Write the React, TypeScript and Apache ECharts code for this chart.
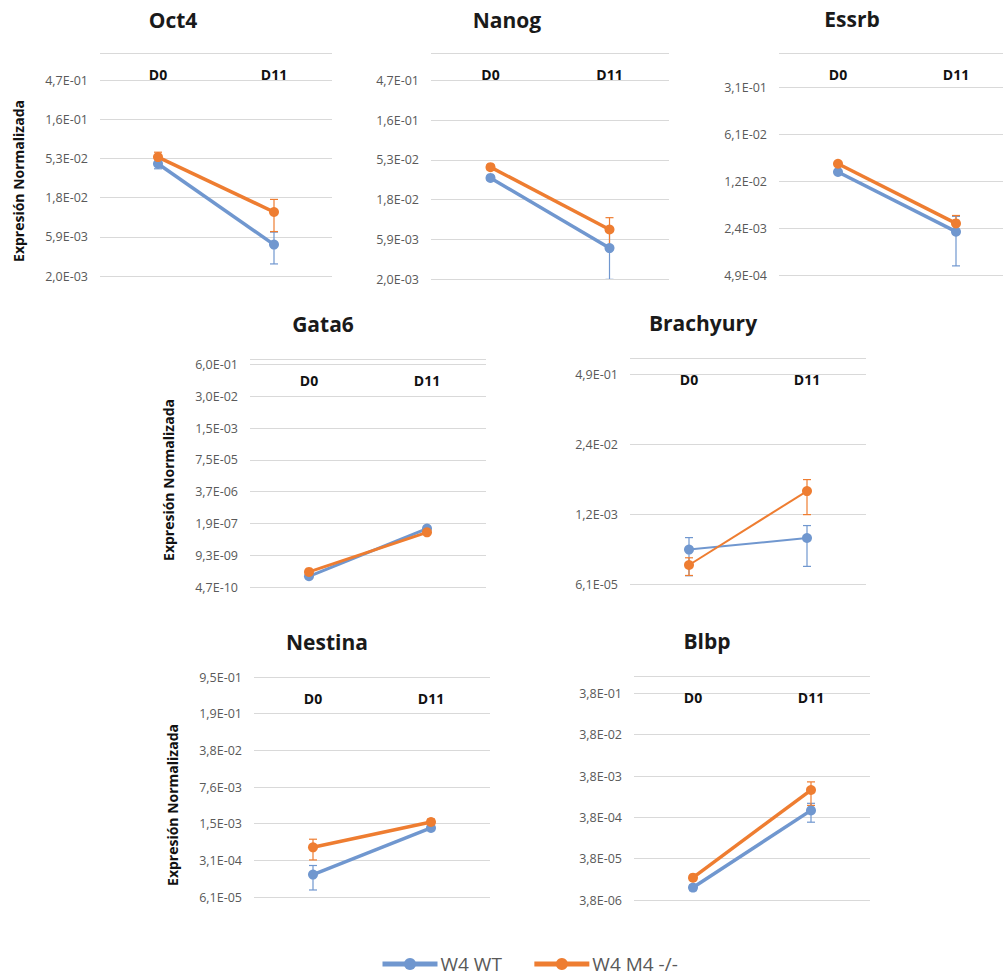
import React, { useEffect, useRef } from 'react';
import * as echarts from 'echarts';

const categories = ['D0', 'D11'];
const seriesNames = ['W4 WT', 'W4 M4 -/-'];
const panelTitles = ['Oct4', 'Nanog', 'Essrb', 'Gata6', 'Brachyury', 'Nestina', 'Blbp'];
const yAxisTitle = 'Expresión Normalizada';

// Oct4
const oct4Ticks = ['2,0E-03', '5,9E-03', '1,8E-02', '5,3E-02', '1,6E-01', '4,7E-01'];
const oct4WT = [0.0457, 0.0048];
const oct4WTErr = [0.006, 0.002];
const oct4KO = [0.055, 0.0119];
const oct4KOErr = [0.008, 0.005];

// Nanog
const nanogTicks = ['2,0E-03', '5,9E-03', '1,8E-02', '5,3E-02', '1,6E-01', '4,7E-01'];
const nanogWT = [0.0322, 0.00468];
const nanogWTErr = [0.002, 0.0027];
const nanogKO = [0.0433, 0.0078];
const nanogKOErr = [0.003, 0.003];

// Essrb
const essrbTicks = ['4,9E-04', '2,4E-03', '1,2E-02', '6,1E-02', '3,1E-01'];
const essrbWT = [0.0168, 0.00217];
const essrbWTErr = [0.001, 0.0015];
const essrbKO = [0.0223, 0.00288];
const essrbKOErr = [0.0015, 0.0009];

// Gata6
const gata6Ticks = ['4,7E-10', '9,3E-09', '1,9E-07', '3,7E-06', '7,5E-05', '1,5E-03', '3,0E-02', '6,0E-01'];
const gata6WT = [1.29e-9, 1.15e-7];
const gata6WTErr = [1e-10, 1e-8];
const gata6KO = [1.94e-9, 8.1e-8];
const gata6KOErr = [2e-10, 1.5e-8];

// Brachyury
const brachyTicks = ['6,1E-05', '1,2E-03', '2,4E-02', '4,9E-01'];
const brachyWT = [2.67e-4, 4.4e-4];
const brachyWTErr = [1.8e-4, 3.1e-4];
const brachyKO = [1.38e-4, 3.3e-3];
const brachyKOErr = [5e-5, 2.1e-3];

// Nestina
const nestinaTicks = ['6,1E-05', '3,1E-04', '1,5E-03', '7,6E-03', '3,8E-02', '1,9E-01', '9,5E-01'];
const nestinaWT = [1.63e-4, 1.26e-3];
const nestinaWTErr = [8e-5, 1e-4];
const nestinaKO = [5.4e-4, 1.64e-3];
const nestinaKOErr = [2.3e-4, 2.3e-4];

// Blbp
const blbpTicks = ['3,8E-06', '3,8E-05', '3,8E-04', '3,8E-03', '3,8E-02', '3,8E-01'];
const blbpWT = [7.6e-6, 5.6e-4];
const blbpWTErr = [1.2e-6, 2.7e-4];
const blbpKO = [1.32e-5, 1.74e-3];
const blbpKOErr = [1.5e-6, 1e-3];

// axis maximum value of each panel
const axisMaxValues = [1, 1, 1, 1, 1, 0.95, 1];

const COLORS = ['#7097cf', '#ee7d31'];
const FONT = '"Open Sans", "Noto Sans", sans-serif';

const panelData = [
  { ticks: oct4Ticks, wt: oct4WT, wtErr: oct4WTErr, ko: oct4KO, koErr: oct4KOErr },
  { ticks: nanogTicks, wt: nanogWT, wtErr: nanogWTErr, ko: nanogKO, koErr: nanogKOErr },
  { ticks: essrbTicks, wt: essrbWT, wtErr: essrbWTErr, ko: essrbKO, koErr: essrbKOErr },
  { ticks: gata6Ticks, wt: gata6WT, wtErr: gata6WTErr, ko: gata6KO, koErr: gata6KOErr },
  { ticks: brachyTicks, wt: brachyWT, wtErr: brachyWTErr, ko: brachyKO, koErr: brachyKOErr },
  { ticks: nestinaTicks, wt: nestinaWT, wtErr: nestinaWTErr, ko: nestinaKO, koErr: nestinaKOErr },
  { ticks: blbpTicks, wt: blbpWT, wtErr: blbpWTErr, ko: blbpKO, koErr: blbpKOErr },
];

const layouts = [
  { left: 100, top: 53, width: 232, height: 223, tx: 173, ty: 23, lw: 3.5, name: [18, 181] },
  { left: 431, top: 53, width: 238, height: 226, tx: 507, ty: 23, lw: 3.5, name: null },
  { left: 779, top: 53, width: 236, height: 222, tx: 852, ty: 22, lw: 3.5, name: null },
  { left: 250, top: 359, width: 236, height: 228, tx: 323, ty: 327, lw: 3, name: [168, 480] },
  { left: 630, top: 358, width: 236, height: 226, tx: 703, ty: 326, lw: 2, name: null },
  { left: 254, top: 677, width: 236, height: 220, tx: 327, ty: 645, lw: 3.5, name: [172, 805] },
  { left: 634, top: 676, width: 236, height: 224, tx: 707, ty: 644, lw: 3.5, name: null },
];

function makeScale(ticks: string[]) {
  const vals = ticks.map((s) => parseFloat(s.replace(',', '.')));
  const n = vals.length - 1;
  const lnBase = Math.log(vals[n] / vals[0]) / n;
  return (v: number) => Math.log(v / vals[0]) / lnBase;
}

function buildOption() {
  const grid: any[] = [];
  const xAxis: any[] = [];
  const yAxis: any[] = [];
  const series: any[] = [];
  const title: any[] = [];
  const graphic: any[] = [];

  panelData.forEach((p, i) => {
    const L = layouts[i];
    const t = makeScale(p.ticks);
    let tMax = t(axisMaxValues[i]);
    if (Math.abs(tMax - Math.round(tMax)) < 1e-6) tMax = Math.round(tMax);

    grid.push({
      left: L.left, top: L.top, width: L.width, height: L.height,
      containLabel: false, outerBoundsMode: 'none',
    });
    xAxis.push({
      type: 'category', gridIndex: i, data: categories, position: 'top', boundaryGap: true,
      axisLine: { show: false }, axisTick: { show: false }, splitLine: { show: false },
      axisLabel: { inside: true, margin: 14, fontSize: 14, fontWeight: 'bold', color: '#111', fontFamily: FONT },
    });
    const ticks = p.ticks;
    yAxis.push({
      type: 'value', gridIndex: i, min: 0, max: tMax, interval: 1,
      axisLine: { show: false }, axisTick: { show: false },
      splitLine: { show: true, lineStyle: { color: '#d9d9d9', width: 1 } },
      axisLabel: {
        margin: 12, fontSize: 12.5, color: '#595959', fontFamily: FONT,
        formatter: (val: number) => {
          const k = Math.round(val);
          return Math.abs(val - k) < 1e-6 && k >= 0 && k < ticks.length ? ticks[k] : '';
        },
      },
    });
    title.push({
      text: panelTitles[i], left: L.tx, top: L.ty - 14, textAlign: 'center', padding: 0,
      textStyle: { fontSize: 21, fontWeight: 'bold', color: '#1a1a1a', fontFamily: FONT },
    });
    if (L.name) {
      graphic.push({
        type: 'text', x: L.name[0], y: L.name[1], rotation: Math.PI / 2,
        style: {
          text: yAxisTitle, fill: '#111', font: `bold 14px ${FONT}`,
          align: 'center', verticalAlign: 'middle', textAlign: 'center', textVerticalAlign: 'middle',
        },
      });
    }

    const groups = [
      { vals: p.wt, errs: p.wtErr },
      { vals: p.ko, errs: p.koErr },
    ];
    groups.forEach((g, k) => {
      const color = COLORS[k];
      series.push({
        type: 'custom', xAxisIndex: i, yAxisIndex: i, z: 1, silent: true, clip: true,
        encode: { x: 0, y: [1, 2] },
        data: g.vals.map((v, j) => {
          const lo = Math.max(v - g.errs[j], v * 1e-3);
          return [j, t(lo), t(v + g.errs[j])];
        }),
        renderItem: (params: any, api: any) => {
          const x = api.value(0);
          const pLo = api.coord([x, api.value(1)]);
          const pHi = api.coord([x, api.value(2)]);
          const style = { stroke: color, lineWidth: 1.2 };
          const cap = 4;
          return {
            type: 'group',
            children: [
              { type: 'line', shape: { x1: pLo[0], y1: pLo[1], x2: pHi[0], y2: pHi[1] }, style },
              { type: 'line', shape: { x1: pHi[0] - cap, y1: pHi[1], x2: pHi[0] + cap, y2: pHi[1] }, style },
              { type: 'line', shape: { x1: pLo[0] - cap, y1: pLo[1], x2: pLo[0] + cap, y2: pLo[1] }, style },
            ],
          };
        },
      });
    });
    groups.forEach((g, k) => {
      const color = COLORS[k];
      series.push({
        type: 'line', name: seriesNames[k], xAxisIndex: i, yAxisIndex: i, z: 3,
        data: g.vals.map((v) => t(v)),
        symbol: 'circle', symbolSize: 10, showSymbol: true,
        lineStyle: { color, width: L.lw },
        itemStyle: { color },
      });
    });
  });

  return {
    animation: false,
    backgroundColor: '#ffffff',
    textStyle: { fontFamily: FONT },
    title,
    grid,
    xAxis,
    yAxis,
    series,
    graphic,
    legend: {
      data: seriesNames,
      left: 380, top: 953, padding: 0,
      itemWidth: 55, itemHeight: 15, itemGap: 30,
      lineStyle: { width: 5 },
      textStyle: { fontSize: 19, lineHeight: 22, color: '#595959', fontFamily: FONT, padding: [0, 0, 0, -2] },
    },
  };
}

export default function App() {
  const ref = useRef<HTMLDivElement>(null);
  useEffect(() => {
    document.body.style.margin = '0';
    document.body.style.overflow = 'hidden';
    if (!ref.current) return;
    const chart = echarts.init(ref.current, undefined, { renderer: 'svg' });
    chart.setOption(buildOption() as any);
    return () => chart.dispose();
  }, []);
  return <div ref={ref} style={{ width: 1003, height: 977, position: 'absolute', left: 0, top: 0 }} />;
}
